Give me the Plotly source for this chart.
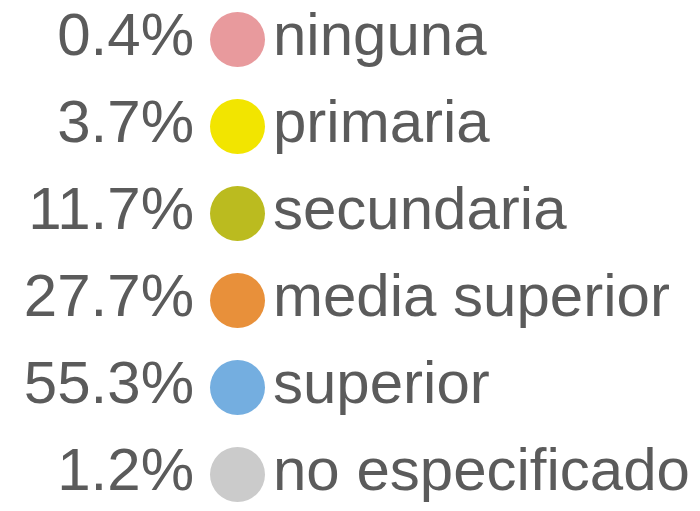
import plotly.graph_objects as go

categories = ["ninguna", "primaria", "secundaria", "media superior", "superior", "no especificado"]
percents = [0.4, 3.7, 11.7, 27.7, 55.3, 1.2]
colors = ["#E89A9D", "#F2E500", "#BBBB1F", "#E8903A", "#74AEE0", "#CBCBCB"]

rows = list(range(len(categories)))
pct_text = [f"{p:.1f}%" for p in percents]

FONT = dict(family="Liberation Sans, Arial, sans-serif", size=60, color="#5B5B5B")

# page body has an 8px default margin; ranges compensate so values map to window pixels
OFF = 8

fig = go.Figure()
fig.add_trace(go.Scatter(
    x=[194] * len(rows), y=rows, mode="text", text=pct_text,
    textposition="middle left", textfont=FONT, hoverinfo="skip", cliponaxis=False))
fig.add_trace(go.Scatter(
    x=[237.5] * len(rows), y=rows, mode="markers",
    marker=dict(size=55, color=colors, line=dict(width=0)), hoverinfo="skip",
    cliponaxis=False))
fig.add_trace(go.Scatter(
    x=[273] * len(rows), y=rows, mode="text", text=categories,
    textposition="middle right", textfont=FONT, hoverinfo="skip", cliponaxis=False))

fig.update_layout(
    width=700, height=511, margin=dict(l=0, r=0, t=0, b=0),
    paper_bgcolor="white", plot_bgcolor="white", showlegend=False,
    xaxis=dict(range=[OFF, 700 + OFF], visible=False, fixedrange=True),
    yaxis=dict(range=[5 + (511 - 474.5 + OFF) / 87, -(39.5 - OFF) / 87],
               visible=False, fixedrange=True),
)
fig.write_html("out.html")
